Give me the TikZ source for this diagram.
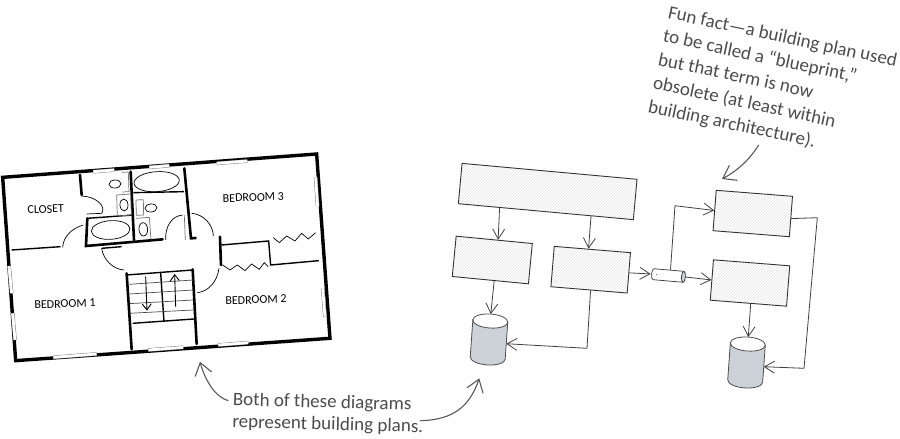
\documentclass[tikz,border=0pt]{standalone}
\usepackage{fontspec}
\setmainfont{Carlito}
\usetikzlibrary{arrows.meta,patterns,calc}
\definecolor{dbgray}{HTML}{CDD1D8}
\tikzset{
  >={Straight Barb[length=10pt,width=12pt]},
  planbox/.style={draw=black!80,line width=0.9pt,pattern=north east lines,pattern color=black!11,
    minimum width=76.5pt,minimum height=40.5pt,inner sep=0pt},
  flow/.style={->,draw=black!75,line width=0.8pt},
  drum/.pic={
    \draw[draw=black!70,line width=0.8pt,fill=dbgray] (-17.5,-18.5) -- (-17.5,18.5) arc (180:0:17.5 and 7) -- (17.5,-18.5) -- cycle;
    \draw[draw=black!70,line width=0.8pt,fill=white] (0,-18.5) ellipse (17.5 and 7);
    \coordinate (-top) at (0,-25.5);
    \coordinate (-side) at (17.5,3);
  },
  pipe/.pic={
    \draw[draw=black!80,line width=0.7pt,fill=white] (15,-5.5) -- (-15,-5.5) arc (270:90:2 and 5.5) -- (15,5.5) -- cycle;
    \draw[draw=black!80,line width=0.7pt,fill=dbgray] (15,0) ellipse (2 and 5.5);
    \fill[black!60] (-12,0) circle (0.5);
    \coordinate (-in) at (-18,0);
    \coordinate (-out) at (17,0);
    \coordinate (-up) at (1.5,-6);
  },
  note/.style={text=black!70,font=\fontsize{19}{22}\selectfont,align=left,inner sep=0pt},
  remark/.style={-{Straight Barb[length=12pt,width=17pt]},draw=black!65,line width=1.1pt},
  room/.style={font=\fontsize{12}{14}\selectfont,inner sep=0pt,rotate=2},
  wall/.style={line width=2.6pt,line cap=round},
  midwall/.style={line width=1.4pt},
  thinwall/.style={line width=0.7pt,draw=black!55},
  door/.style={line width=0.7pt},
}
\begin{document}
\begin{tikzpicture}[x=1pt,y=-1pt]
\useasboundingbox (0,0) rectangle (900,439);
% floor plan, in the 3x crop coordinates
\begin{scope}[shift={(0,140)},x=0.3333pt,y=-0.3333pt]
  % outer wall with its windows
  \draw[line width=3.4pt,line join=miter] (8,112) -- (950,42) -- (990,595) -- (47,662) -- cycle;
  \foreach \a/\b/\c/\d in {280/95/343/90,448/82/508/77,650/70/742/63,947/112/953/200,968/445/975/530,160/652/290/642,445/630/550/622,655/615/745/608,27/378/35/460,38/520/45/600}{
    \draw[line width=3.6pt,black!55] (\a,\b) -- (\c,\d);
    \draw[line width=2.8pt,white] (\a,\b) -- (\c,\d);
  }
  % inner walls
  \draw[wall] (240,105) -- (245,165);
  \draw[midwall] (35,330) -- (182,320);
  \draw[wall] (262,235) -- (258,318) -- (488,298);
  \draw[midwall] (262,235) -- (400,225);
  \draw[wall] (392,95) -- (402,300);
  \draw[midwall] (400,158) -- (552,155);
  \draw[wall] (553,85) -- (573,295) -- (587,294);
  \draw[midwall] (305,325) -- (365,320);
  \draw[wall] (660,290) -- (663,375);
  \draw[midwall] (665,315) -- (806,303) -- (812,375) -- (957,362);
  % doors
  \draw[door] (245,168) .. controls (290,170) and (320,200) .. (305,220) -- (260,222);
  \draw[door] (250,255) .. controls (215,265) and (190,290) .. (188,322);
  \draw[door] (548,225) .. controls (515,228) and (495,260) .. (497,300);
  \draw[thinwall] (553,225) -- (556,300);
  \draw[door] (575,220) .. controls (610,222) and (640,255) .. (640,288);
  \draw[door] (305,325) .. controls (310,360) and (340,388) .. (372,390);
  \draw[door] (657,385) .. controls (652,425) and (625,455) .. (592,458);
  % closets
  \draw[door] (668,375) -- (690,390) -- (712,375) -- (735,392) -- (755,372) -- (778,388) -- (793,368) -- (805,380);
  \draw[door] (820,293) -- (838,308) -- (860,288) -- (885,303) -- (905,280) -- (925,297) -- (947,278);
  % stairs
  \draw[wall] (380,400) -- (395,628);
  \draw[wall] (578,388) -- (590,612);
  \draw[midwall] (380,405) -- (578,390);
  \draw[midwall] (482,398) -- (492,545);
  \foreach \l/\r in {433/420,462/450,491/480,520/510}{
    \draw[door,black!70] (388,\l) -- (580,\r);
  }
  \draw[midwall] (398,550) -- (582,537);
  \draw[-{Straight Barb[length=6pt,width=9pt]},line width=0.9pt] (437,410) -- (441,512);
  \draw[-{Straight Barb[length=6pt,width=9pt]},line width=0.9pt] (527,500) -- (524,402);
  % bath fixtures
  \draw[thinwall] (408,180) -- (430,179) -- (431,225) -- (409,226) -- cycle;
  \draw[thinwall] (350,165) -- (392,162) -- (394,225) -- (352,228) -- cycle;
  \draw[thinwall] (365,97) -- (385,96) -- (387,155) -- (367,156);
  \draw[thinwall] (408,235) -- (448,232) -- (453,298);
  \foreach \x/\y/\rx/\ry in {470/125/68/30,332/270/58/28,345/132/18/12,372/195/12/18,453/204/18/12,430/268/13/20}{
    \draw[door,rotate around={4:(\x,\y)}] (\x,\y) ellipse ({\rx} and {\ry});
  }
  % room names
  \node[room] (closet) at (137,208) {CLOSET};
  \node[room] (bedroomone) at (195,492) {BEDROOM 1};
  \node[room] (bedroomtwo) at (768,480) {BEDROOM 2};
  \node[room] (bedroomthree) at (760,172) {BEDROOM 3};
\end{scope}
% blocks of the architecture diagram
\node[planbox,minimum width=175.7pt,rotate=-5.2] (top) at (547.7,191.5) {};
\node[planbox,rotate=-5.5] (left) at (492.3,260) {};
\node[planbox,rotate=-4.7] (mid) at (590.7,269.7) {};
\node[planbox,rotate=-4.5] (upper) at (752.8,213.5) {};
\node[planbox,rotate=-4.5] (lower) at (750,283) {};
\pic[rotate=-4] (dbleft) at (489,339.5) {drum};
\pic[rotate=-4] (dbright) at (746.5,362.5) {drum};
\pic[rotate=-5] (conn) at (668.5,275.5) {pipe};
% connectors
\draw[flow] ($(top.south west)!0.237!(top.south east)$) -- ($(left.north west)!0.55!(left.north east)$);
\draw[flow] ($(top.south west)!0.757!(top.south east)$) -- ($(mid.north west)!0.45!(mid.north east)$);
\draw[flow] ($(left.south west)!0.55!(left.south east)$) -- (dbleft-top);
\draw[flow] ($(mid.south west)!0.52!(mid.south east)$) -- (587,348.3) -- (dbleft-side);
\draw[flow] (mid.east) -- (conn-in);
\draw[flow] (conn-out) -- (lower.west);
\draw[flow] (conn-up) -- (675,205.7) -- (upper.west);
\draw[flow] ($(upper.north east)!0.55!(upper.south east)$) -- (817.3,217.7) -- (804,368.3) -- (dbright-side);
\draw[flow] ($(lower.south west)!0.53!(lower.south east)$) -- (dbright-top);
% handwritten remarks
\node[note,font=\fontsize{19}{24}\selectfont,rotate=-12,anchor=north west] (funfact) at (670,5) {Fun fact---a building plan used\\to be called a “blueprint,”\\but that term is now\\obsolete (at least within\\building architecture).};
\node[note,rotate=-1.5,anchor=north west] (both) at (233,392) {Both of these diagrams\\represent building plans.};
\coordinate (factend) at (722,179);
\coordinate (factstart) at (758.7,145);
\coordinate (planend) at (200,361.7);
\coordinate (planstart) at (228.3,400.7);
\coordinate (blocksend) at (479.3,378.3);
\coordinate (blocksstart) at (420,420.7);
\draw[remark] (factstart) .. controls (748,162) and (735,172) .. (factend);
\draw[remark] (planstart) .. controls (215,397) and (205,380) .. (planend);
\draw[remark] (blocksstart) .. controls (455,420) and (470,405) .. (blocksend);
\end{tikzpicture}
\end{document}
